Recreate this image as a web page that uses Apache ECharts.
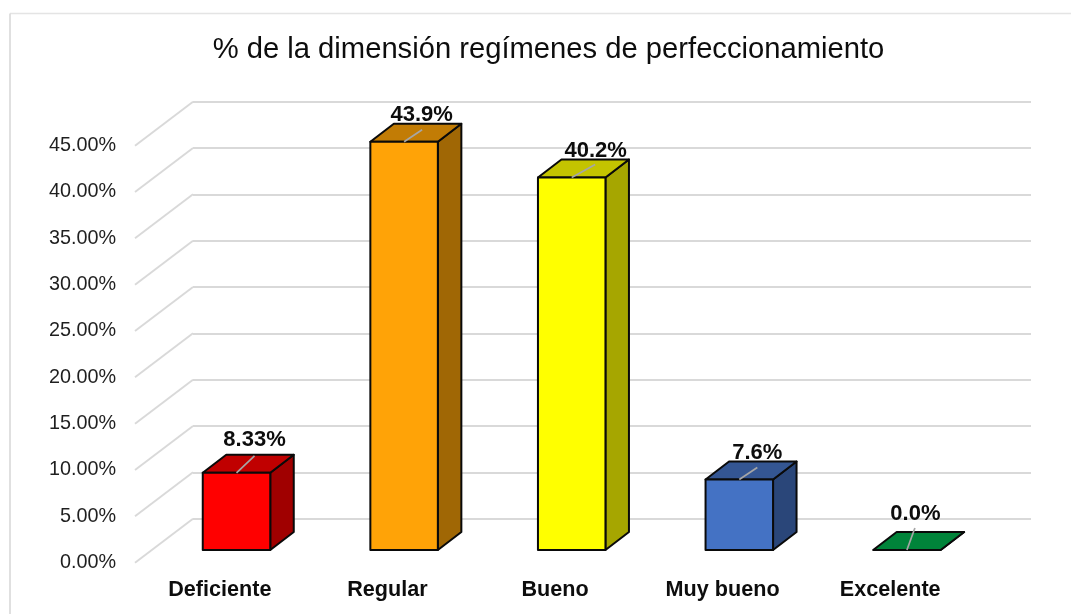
<!DOCTYPE html>
<html>
<head>
<meta charset="utf-8">
<style>
  html, body { margin: 0; padding: 0; background: #fff; }
  #chart { width: 1071px; height: 614px; }
</style>
<script src="https://cdn.jsdelivr.net/npm/echarts@6/dist/echarts.min.js"></script>
</head>
<body>
<div id="chart"></div>
<script>
const categories = ['Deficiente', 'Regular', 'Bueno', 'Muy bueno', 'Excelente']
const barValues = [8.33, 44.05, 40.2, 7.6, 0]
const barLabels = ['8.33%', '43.9%', '40.2%', '7.6%', '0.0%']
const yTicks = [0, 5, 10, 15, 20, 25, 30, 35, 40, 45]

const frontColors = ['#ff0000', '#ffa307', '#ffff00', '#4472c4', '#00843a']
const topColors = ['#c00000', '#c27c05', '#c4c400', '#345693', '#00843a']
const sideColors = ['#a00000', '#a06705', '#a6a600', '#2a4679', '#00843a']

const FONT = '"Liberation Sans", Arial, sans-serif'
const WALL_DX = 58
const WALL_DY = 44
const BAR_W = 67.5
const BAR_DX = 23.5
const BAR_DY = 18
// bars stand a bit behind the front edge of the floor
const BAR_SHIFT_X = 17.7
const BAR_SHIFT_Y = 12.7
// leader end and label centre, relative to the middle of the bar's top front edge
const leaderEnds = [[18, -17], [18, -12], [23.5, -13], [18, -12], [8, -22]]
const labelOffsets = [[18, -33], [17.5, -27], [24, -27], [18, -27], [8.5, -36]]

const chart = echarts.init(document.getElementById('chart'))

const renderWall = (params, api) => {
  const p = api.coord([0, api.value(0)])
  const x = params.coordSys.x
  return {
    type: 'line',
    silent: true,
    shape: { x1: x, y1: p[1], x2: x - WALL_DX, y2: p[1] + WALL_DY },
    style: { stroke: '#d9d9d9', lineWidth: 1.9 }
  }
}

const renderBar = (params, api) => {
  const i = params.dataIndex
  const base = api.coord([i, 0])
  const top = api.coord([i, api.value(1)])
  const left = base[0] + BAR_SHIFT_X - BAR_W / 2
  const right = left + BAR_W
  const y0 = base[1] - BAR_SHIFT_Y
  const y1 = top[1] - BAR_SHIFT_Y
  const midX = (left + right) / 2
  const edge = { stroke: '#0a0a0a', lineWidth: 2, lineJoin: 'round' }
  const poly = (points, fill) => ({
    type: 'polygon',
    shape: { points },
    style: { fill, ...edge }
  })
  const children = [
    poly([[right, y1], [right + BAR_DX, y1 - BAR_DY], [right + BAR_DX, y0 - BAR_DY], [right, y0]], sideColors[i]),
    poly([[left, y1], [left + BAR_DX, y1 - BAR_DY], [right + BAR_DX, y1 - BAR_DY], [right, y1]], topColors[i])
  ]
  if (y0 - y1 > 0) {
    children.push({
      type: 'rect',
      shape: { x: left, y: y1, width: BAR_W, height: y0 - y1 },
      style: { fill: frontColors[i], ...edge }
    })
  }
  children.push({
    type: 'line',
    shape: { x1: midX, y1: y1, x2: midX + leaderEnds[i][0], y2: y1 + leaderEnds[i][1] },
    style: { stroke: '#a6a6a6', lineWidth: 1.7 }
  })
  children.push({
    type: 'text',
    style: {
      x: midX + labelOffsets[i][0],
      y: y1 + labelOffsets[i][1],
      text: barLabels[i],
      fill: '#0d0d0d',
      font: 'bold 22px ' + FONT,
      align: 'center',
      verticalAlign: 'middle'
    }
  })
  return { type: 'group', children }
}

const option = {
  animation: false,
  backgroundColor: '#ffffff',
  title: {
    text: '% de la dimensión regímenes de perfeccionamiento',
    left: 543.5,
    top: 30,
    textAlign: 'center',
    textStyle: { fontFamily: FONT, fontSize: 29.2, fontWeight: 'normal', color: '#0d0d0d' }
  },
  graphic: [
    {
      type: 'line',
      silent: true,
      z: -1,
      shape: { x1: 10, y1: 13.5, x2: 1071, y2: 13.5 },
      style: { stroke: '#e4e4e4', lineWidth: 1.5 }
    },
    {
      type: 'line',
      silent: true,
      z: -1,
      shape: { x1: 10, y1: 13.5, x2: 10, y2: 614 },
      style: { stroke: '#d9d9d9', lineWidth: 1.6 }
    }
  ],
  grid: [
    // back wall: carries the horizontal gridlines
    { left: 193, top: 101.7, width: 838, height: 417 },
    // front plane of the floor: carries labels and bars
    { left: 135, top: 145.7, width: 838, height: 417 }
  ],
  xAxis: [
    { gridIndex: 0, type: 'category', data: categories, show: false },
    {
      gridIndex: 1,
      type: 'category',
      data: categories,
      axisLine: { show: false },
      axisTick: { show: false },
      axisLabel: {
        margin: 16,
        padding: [0, 0, 0, 2],
        fontFamily: FONT,
        fontSize: 21.6,
        fontWeight: 'bold',
        color: '#0d0d0d',
        interval: 0
      }
    }
  ],
  yAxis: [
    {
      gridIndex: 0,
      type: 'value',
      min: 0,
      max: 45,
      interval: 5,
      axisLine: { show: false },
      axisTick: { show: false },
      axisLabel: { show: false },
      splitLine: { lineStyle: { color: '#d9d9d9', width: 1.9 } }
    },
    {
      gridIndex: 1,
      type: 'value',
      min: 0,
      max: 45,
      interval: 5,
      axisLine: { show: false },
      axisTick: { show: false },
      splitLine: { show: false },
      axisLabel: {
        margin: 19,
        padding: [4, 0, 0, 0],
        fontFamily: FONT,
        fontSize: 19.8,
        color: '#1f1f1f',
        formatter: v => v.toFixed(2) + '%'
      }
    }
  ],
  series: [
    {
      type: 'custom',
      xAxisIndex: 0,
      yAxisIndex: 0,
      silent: true,
      clip: false,
      z: 1,
      data: yTicks.map(v => [v]),
      encode: { y: 0 },
      renderItem: renderWall
    },
    {
      type: 'custom',
      xAxisIndex: 1,
      yAxisIndex: 1,
      clip: false,
      z: 3,
      data: barValues.map((v, i) => [i, v]),
      encode: { x: 0, y: 1 },
      renderItem: renderBar
    }
  ]
}

chart.setOption(option)
</script>
</body>
</html>
